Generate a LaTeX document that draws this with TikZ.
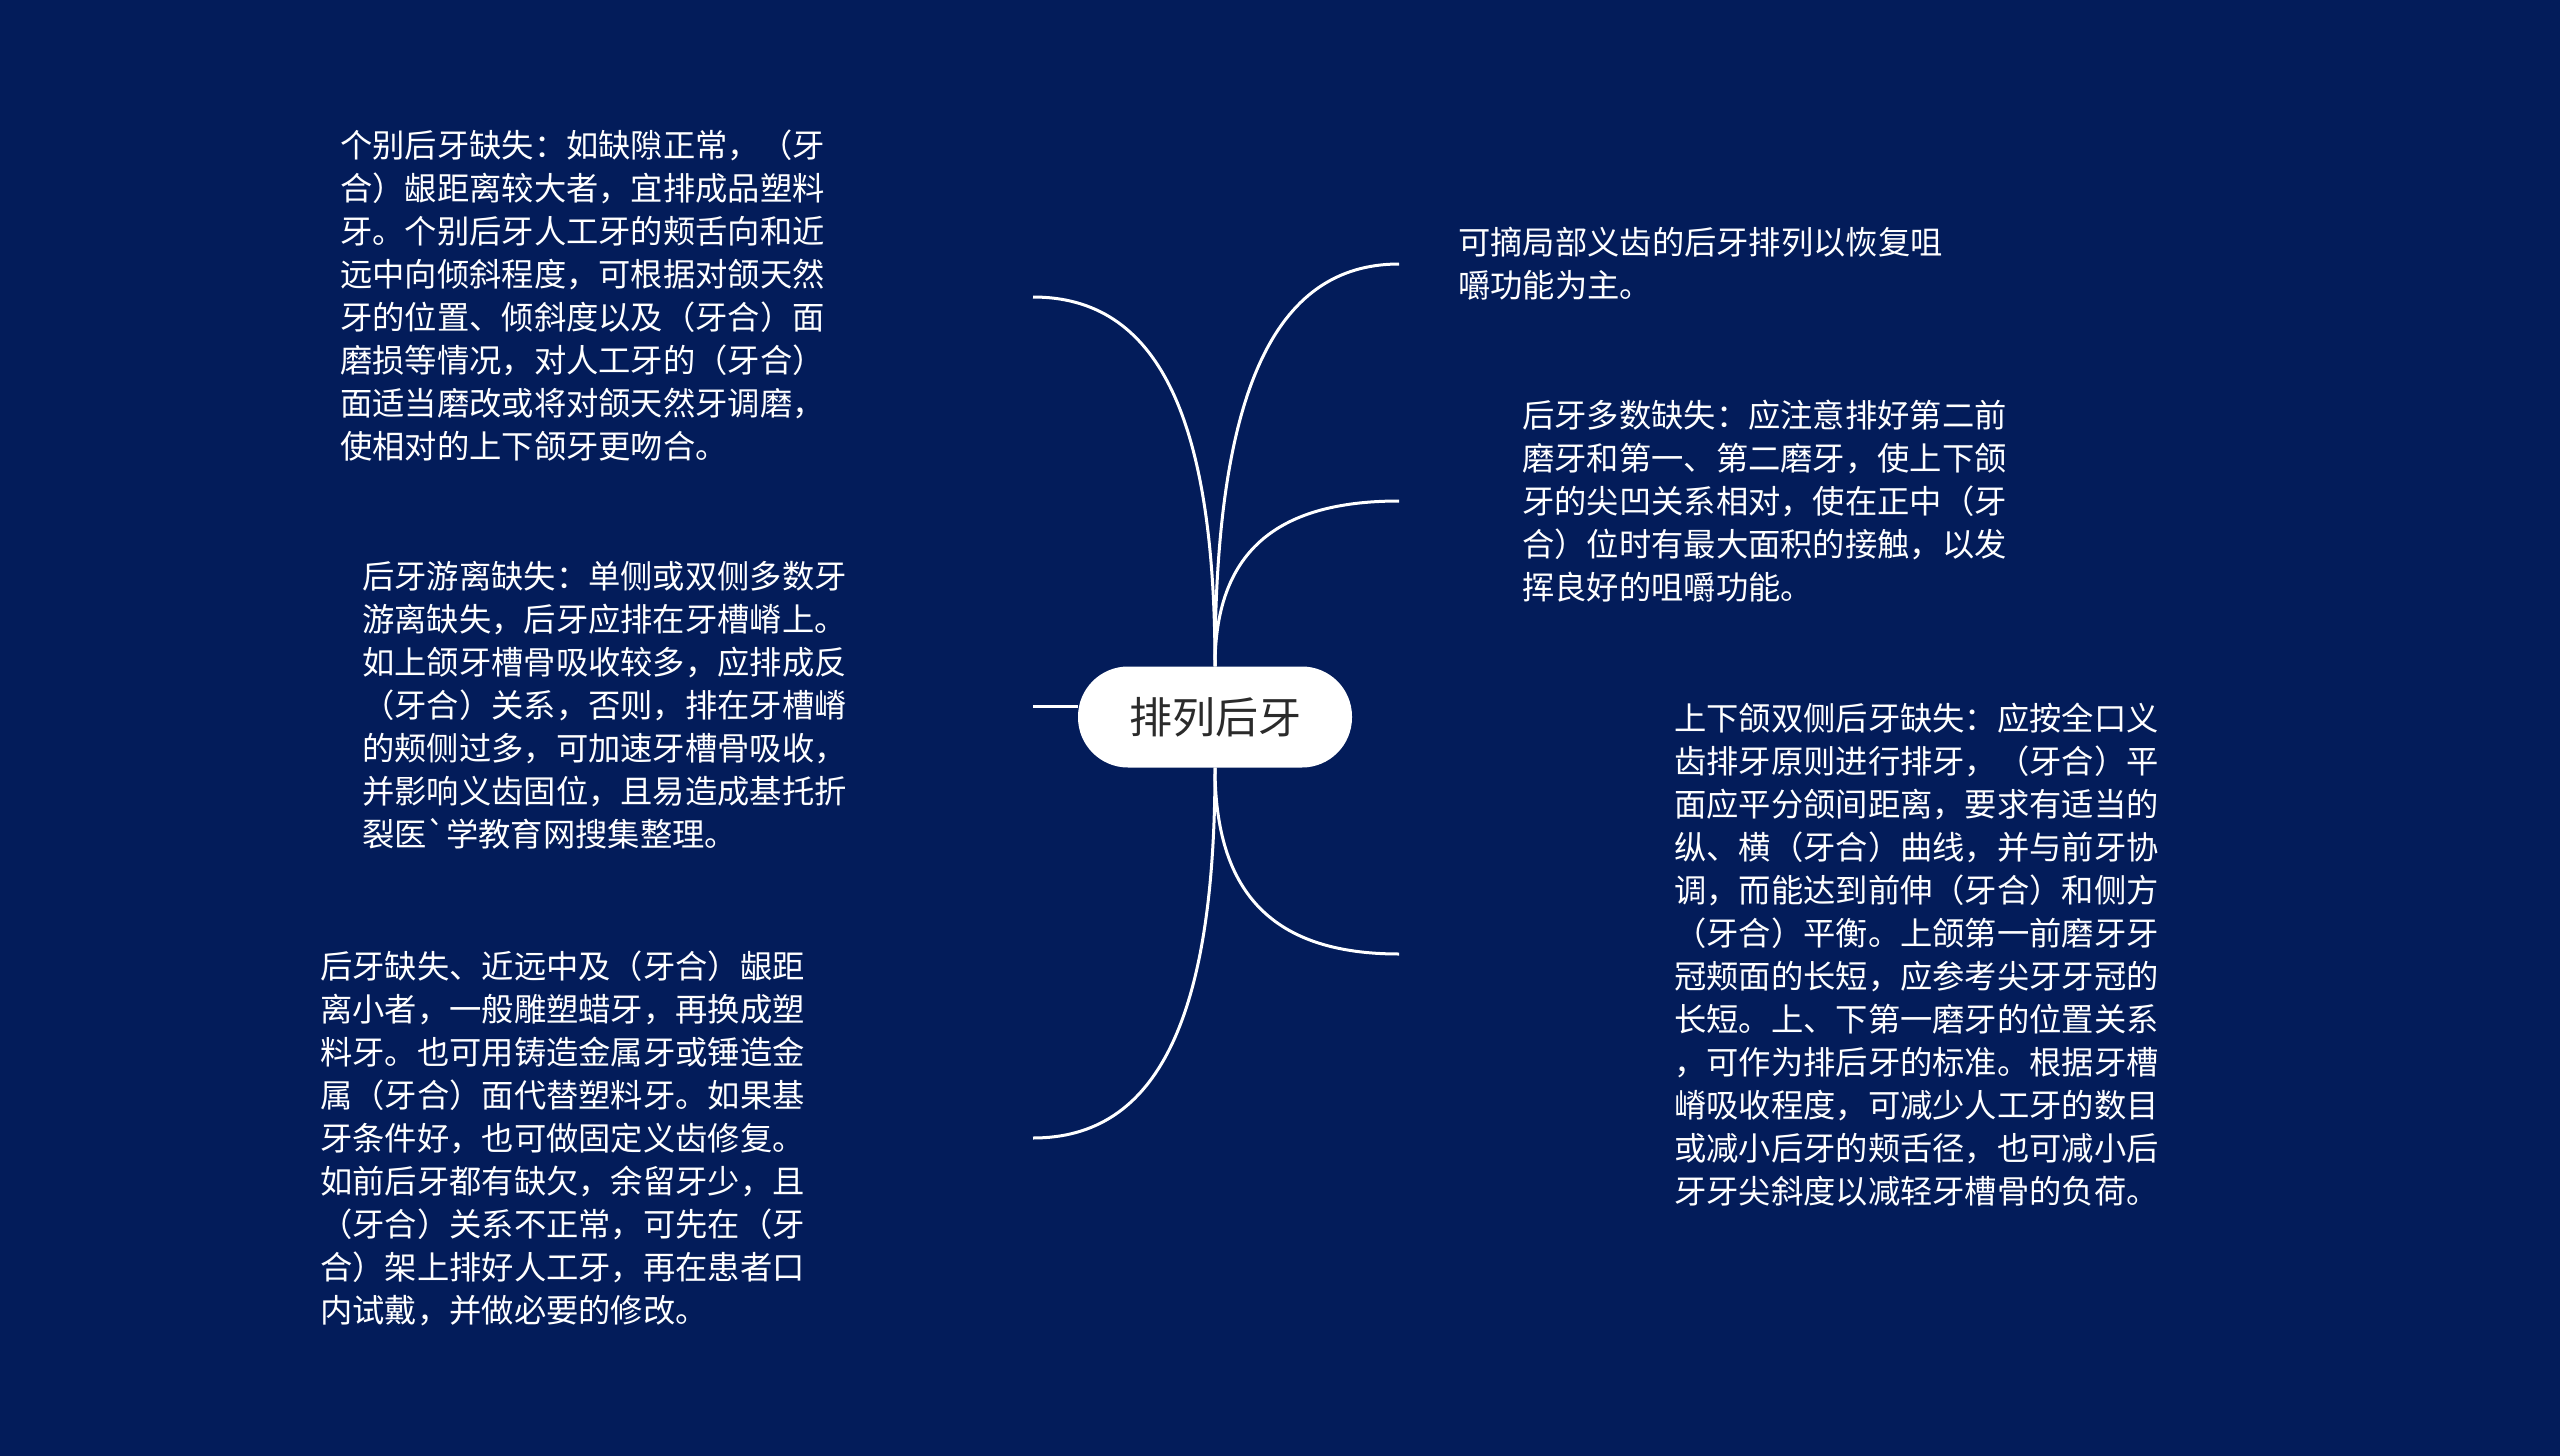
\documentclass[tikz,border=0pt]{standalone}
\usepackage{fontspec}
\newfontfamily\cjk{Noto Sans CJK SC}
\usetikzlibrary{calc}
\definecolor{bgnavy}{HTML}{031C5A}
\definecolor{roottext}{HTML}{2B2B2B}
\newcommand\mybranch[2]{\draw[branch] (#1) .. controls ($(#1)!0.68!(#1 |- #2)$) and ($(#2)!0.68!(#1 |- #2)$) .. (#2);}
\begin{document}
\begin{tikzpicture}[x=1pt,y=-1pt,
  txt/.style={anchor=west, align=left, inner sep=0pt, text=white,
    font=\cjk\fontsize{32.3}{43}\selectfont},
  branch/.style={draw=white, line width=3pt},
  rootbox/.style={fill=white, rounded corners=50pt, minimum width=274pt,
    minimum height=101pt, inner sep=0pt, text=roottext,
    font=\cjk\fontsize{43}{50}\selectfont}]
\fill[bgnavy] (0,0) rectangle (2560,1456);
\useasboundingbox (0,0) rectangle (2560,1456);

\node[rootbox] (root) at (1215,717) {排列后牙};

\node[txt] (t1) at (340,296) {个别后牙缺失：如缺隙正常，（牙\\
合）龈距离较大者，宜排成品塑料\\
牙。个别后牙人工牙的颊舌向和近\\
远中向倾斜程度，可根据对颌天然\\
牙的位置、倾斜度以及（牙合）面\\
磨损等情况，对人工牙的（牙合）\\
面适当磨改或将对颌天然牙调磨，\\
使相对的上下颌牙更吻合。};

\node[txt] (t2) at (362,705) {后牙游离缺失：单侧或双侧多数牙\\
游离缺失，后牙应排在牙槽嵴上。\\
如上颌牙槽骨吸收较多，应排成反\\
（牙合）关系，否则，排在牙槽嵴\\
的颊侧过多，可加速牙槽骨吸收，\\
并影响义齿固位，且易造成基托折\\
裂医`学教育网搜集整理。};

\node[txt] (t3) at (320,1138) {后牙缺失、近远中及（牙合）龈距\\
离小者，一般雕塑蜡牙，再换成塑\\
料牙。也可用铸造金属牙或锤造金\\
属（牙合）面代替塑料牙。如果基\\
牙条件好，也可做固定义齿修复。\\
如前后牙都有缺欠，余留牙少，且\\
（牙合）关系不正常，可先在（牙\\
合）架上排好人工牙，再在患者口\\
内试戴，并做必要的修改。};

\node[txt] (t4) at (1458,264) {可摘局部义齿的后牙排列以恢复咀\\
嚼功能为主。};

\node[txt] (t5) at (1522,501) {后牙多数缺失：应注意排好第二前\\
磨牙和第一、第二磨牙，使上下颌\\
牙的尖凹关系相对，使在正中（牙\\
合）位时有最大面积的接触，以发\\
挥良好的咀嚼功能。};

\node[txt] (t6) at (1674,955) {上下颌双侧后牙缺失：应按全口义\\
齿排牙原则进行排牙，（牙合）平\\
面应平分颌间距离，要求有适当的\\
纵、横（牙合）曲线，并与前牙协\\
调，而能达到前伸（牙合）和侧方\\
（牙合）平衡。上颌第一前磨牙牙\\
冠颊面的长短，应参考尖牙牙冠的\\
长短。上、下第一磨牙的位置关系\\
，可作为排后牙的标准。根据牙槽\\
嵴吸收程度，可减少人工牙的数目\\
或减小后牙的颊舌径，也可减小后\\
牙牙尖斜度以减轻牙槽骨的负荷。};

\coordinate (e1) at (1033,297);
\coordinate (e2) at (1033,706);
\coordinate (e3) at (1033,1138);
\coordinate (e4) at (1399,264);
\coordinate (e5) at (1399,501);
\coordinate (e6) at (1399,954);

\mybranch{root.north}{e1}
\mybranch{root.north}{e4}
\mybranch{root.north}{e5}
\mybranch{root.south}{e3}
\mybranch{root.south}{e6}
\draw[branch] (e2) -- (e2 -| root.west);
\end{tikzpicture}
\end{document}
